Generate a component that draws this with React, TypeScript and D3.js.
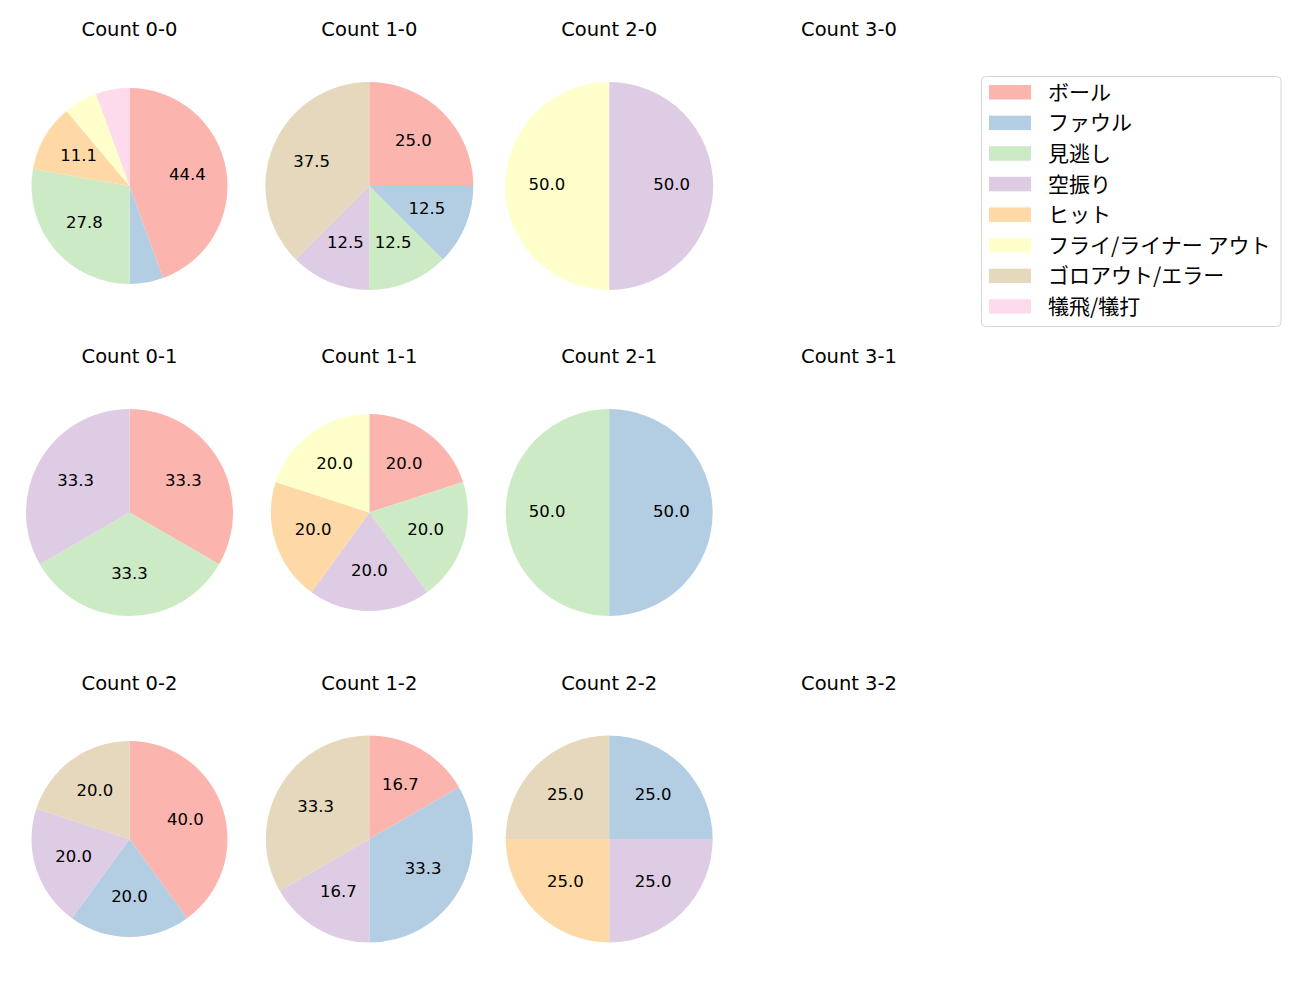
import React from "react";
import * as d3 from "d3";

const categories = [
  "ボール",
  "ファウル",
  "見逃し",
  "空振り",
  "ヒット",
  "フライ/ライナー アウト",
  "ゴロアウト/エラー",
  "犠飛/犠打",
];

const colors = ["#fbb4ae", "#b3cde3", "#ccebc5", "#decbe4", "#fed9a6", "#ffffcc", "#e5d8bd", "#fddaec"];

const countLabels = [
  "0-0", "1-0", "2-0", "3-0",
  "0-1", "1-1", "2-1", "3-1",
  "0-2", "1-2", "2-2", "3-2",
];

// pitch outcome counts per category (order of categories)
const values: number[][] = [
  [8, 1, 5, 0, 2, 1, 0, 1],
  [2, 1, 1, 1, 0, 0, 3, 0],
  [0, 0, 0, 1, 0, 1, 0, 0],
  [],
  [1, 0, 1, 1, 0, 0, 0, 0],
  [1, 0, 1, 1, 1, 1, 0, 0],
  [0, 1, 1, 0, 0, 0, 0, 0],
  [],
  [2, 1, 0, 1, 0, 0, 1, 0],
  [1, 2, 0, 1, 0, 0, 2, 0],
  [0, 1, 0, 1, 1, 0, 1, 0],
  [],
];

// layout
const radii = [98, 104, 104, 104, 103.5, 98.5, 103.5, 103.5, 98, 103.5, 103.5, 103.5];
const LATIN = "'DejaVu Sans', 'Noto Sans CJK JP', sans-serif";
const CJK = "'Noto Sans CJK JP', 'DejaVu Sans', sans-serif";

export default function App() {
  const W = 1300, H = 1000;
  const colX = d3.scaleLinear().domain([0, 3]).range([129.5, 849]);
  const rowY = d3.scaleLinear().domain([0, 2]).range([186, 839]);
  const titleY = d3.scaleLinear().domain([0, 2]).range([36, 690]);

  const pie = d3.pie<number>().sort(null).value((d) => d).startAngle(0).endAngle(2 * Math.PI);
  const LFS = 16.5;

  return (
    <svg width={W} height={H} style={{ display: "block", position: "absolute", left: 0, top: 0, background: "#fff" }}>
      <rect x={0} y={0} width={W} height={H} fill="#fff" />
      {countLabels.map((lab, i) => {
        const col = i % 4;
        const row = Math.floor(i / 4);
        const cx = colX(col);
        const cy = rowY(row);
        const r = radii[i];
        const vals = values[i];
        const total = d3.sum(vals);
        const arcs = vals.length ? pie(vals) : [];
        const arc = d3.arc<d3.PieArcDatum<number>>().innerRadius(0).outerRadius(r);
        const labelArc = d3.arc<d3.PieArcDatum<number>>().innerRadius(r * 0.6).outerRadius(r * 0.6);
        return (
          <g key={lab}>
            <text x={cx} y={titleY(row)} textAnchor="middle" fontFamily={LATIN} fontSize={19.5} fill="#000">
              {"Count " + lab}
            </text>
            <g transform={`translate(${cx},${cy})`}>
              {arcs.map((a, j) =>
                a.value > 0 ? <path key={j} d={arc(a) || ""} fill={colors[j]} /> : null
              )}
              {arcs.map((a, j) => {
                const pct = (a.value / total) * 100;
                if (pct < 10) return null;
                const [lx, ly] = labelArc.centroid(a);
                return (
                  <text key={"t" + j} x={lx} y={ly + LFS * 0.36 - 1.5} textAnchor="middle"
                    fontFamily={LATIN} fontSize={LFS} fill="#000">
                    {pct.toFixed(1)}
                  </text>
                );
              })}
            </g>
          </g>
        );
      })}
      <g>
        <rect x={981.5} y={76.5} width={299.5} height={250} rx={4} ry={4} fill="#fff" fillOpacity={0.8} stroke="#d6d6d6" />
        {categories.map((c, j) => {
          const y = 92 + j * 30.6;
          return (
            <g key={c}>
              <rect x={989} y={y - 7} width={42} height={14.5} fill={colors[j]} />
              <text x={1048} y={y - 1.2} dominantBaseline="central" fontFamily={CJK} fontSize={21} fill="#000">
                {c}
              </text>
            </g>
          );
        })}
      </g>
    </svg>
  );
}
